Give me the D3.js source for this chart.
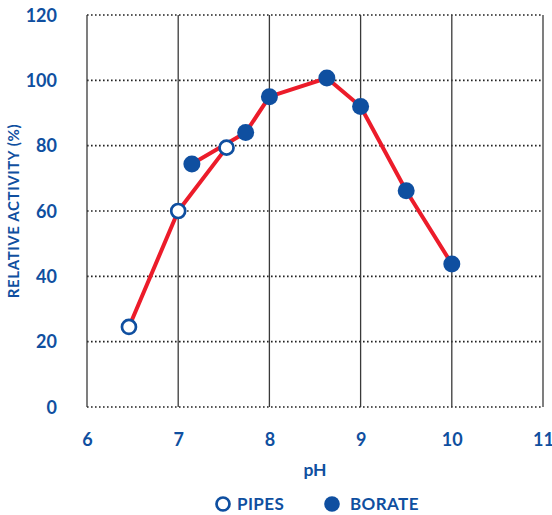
<!DOCTYPE html>
<html><head><meta charset="utf-8">
<script src="https://cdn.jsdelivr.net/npm/d3@7"></script>
<style>body{margin:0;background:#fff}svg{display:block}</style>
</head><body>
<svg id="c" width="552" height="515"></svg>
<script>
const xTicks = [6, 7, 8, 9, 10, 11];
const yTicks = [0, 20, 40, 60, 80, 100, 120];
const pipesPH = [6.46, 7.0, 7.53];
const pipesAct = [24.5, 60, 79.4];
const boratePH = [7.15, 7.74, 8.0, 8.63, 9.0, 9.5, 10.0];
const borateAct = [74.4, 84.0, 95.0, 100.7, 92.0, 66.2, 43.8];
const legendLabels = ["PIPES", "BORATE"];

const blue = "#0f4fa0", red = "#ec1c2a";
const font = "'Lato', 'DejaVu Sans', sans-serif";
const svg = d3.select("#c");
const x = d3.scaleLinear().domain([6, 11]).range([87, 543]);
const y = d3.scaleLinear().domain([0, 120]).range([407, 15]);

svg.append("g").selectAll("line").data(yTicks).join("line")
  .attr("x1", x(6)).attr("x2", x(11))
  .attr("y1", d => y(d)).attr("y2", d => y(d))
  .attr("stroke", "#222").attr("stroke-width", 1.6)
  .attr("stroke-dasharray", "1.6,2.4");
svg.append("g").selectAll("line").data(xTicks).join("line")
  .attr("x1", d => x(d)).attr("x2", d => x(d))
  .attr("y1", y(120)).attr("y2", y(0))
  .attr("stroke", "#3a3a3a").attr("stroke-width", 1.3);

const yAxis = svg.append("g").attr("transform", `translate(${x(6)},0)`)
  .call(d3.axisLeft(y).tickValues(yTicks).tickFormat(d3.format("d")).tickSize(0).tickPadding(30));
const xAxis = svg.append("g").attr("transform", `translate(0,${y(0)})`)
  .call(d3.axisBottom(x).tickValues(xTicks).tickFormat(d3.format("d")).tickSize(0).tickPadding(26));
[yAxis, xAxis].forEach(a => {
  a.select(".domain").remove();
  a.selectAll("text").attr("fill", blue).attr("font-family", font)
    .attr("font-weight", "bold").attr("font-size", 18);
});
yAxis.selectAll("text").attr("dy", "0.35em");

svg.append("text").attr("x", x(8.5)).attr("y", 476).attr("text-anchor", "middle")
  .attr("fill", blue).attr("font-family", font).attr("font-weight", "bold")
  .attr("font-size", 17.5).text("pH");
svg.append("text").attr("transform", `translate(19,${y(60)}) rotate(-90)`)
  .attr("text-anchor", "middle").attr("fill", blue).attr("font-family", font)
  .attr("font-weight", "bold").attr("font-size", 15).attr("letter-spacing", 0.6)
  .text("RELATIVE ACTIVITY (%)");

const line = d3.line().x(d => x(d[0])).y(d => y(d[1]));
const pipes = pipesPH.map((p, i) => [p, pipesAct[i]]);
const borate = boratePH.map((p, i) => [p, borateAct[i]]);
svg.append("path").datum(pipes).attr("d", line).attr("fill", "none")
  .attr("stroke", red).attr("stroke-width", 4);
svg.append("path").datum(borate).attr("d", line).attr("fill", "none")
  .attr("stroke", red).attr("stroke-width", 4);

svg.append("g").selectAll("circle").data(borate).join("circle")
  .attr("cx", d => x(d[0])).attr("cy", d => y(d[1])).attr("r", 8.5).attr("fill", blue);
svg.append("g").selectAll("circle").data(pipes).join("circle")
  .attr("cx", d => x(d[0])).attr("cy", d => y(d[1])).attr("r", 7)
  .attr("fill", "#fff").attr("stroke", blue).attr("stroke-width", 2.7);

const lg = svg.append("g");
lg.append("circle").attr("cx", 223).attr("cy", 504).attr("r", 6.5)
  .attr("fill", "#fff").attr("stroke", blue).attr("stroke-width", 2.7);
lg.append("circle").attr("cx", 332).attr("cy", 504).attr("r", 7.8).attr("fill", blue);
lg.selectAll("text").data(legendLabels).join("text")
  .attr("x", (d, i) => i === 0 ? 237 : 350).attr("y", 504).attr("dy", "0.35em")
  .attr("fill", blue).attr("font-family", font).attr("font-weight", "bold")
  .attr("font-size", 17).attr("letter-spacing", 0.4).text(d => d);
</script>
</body></html>
